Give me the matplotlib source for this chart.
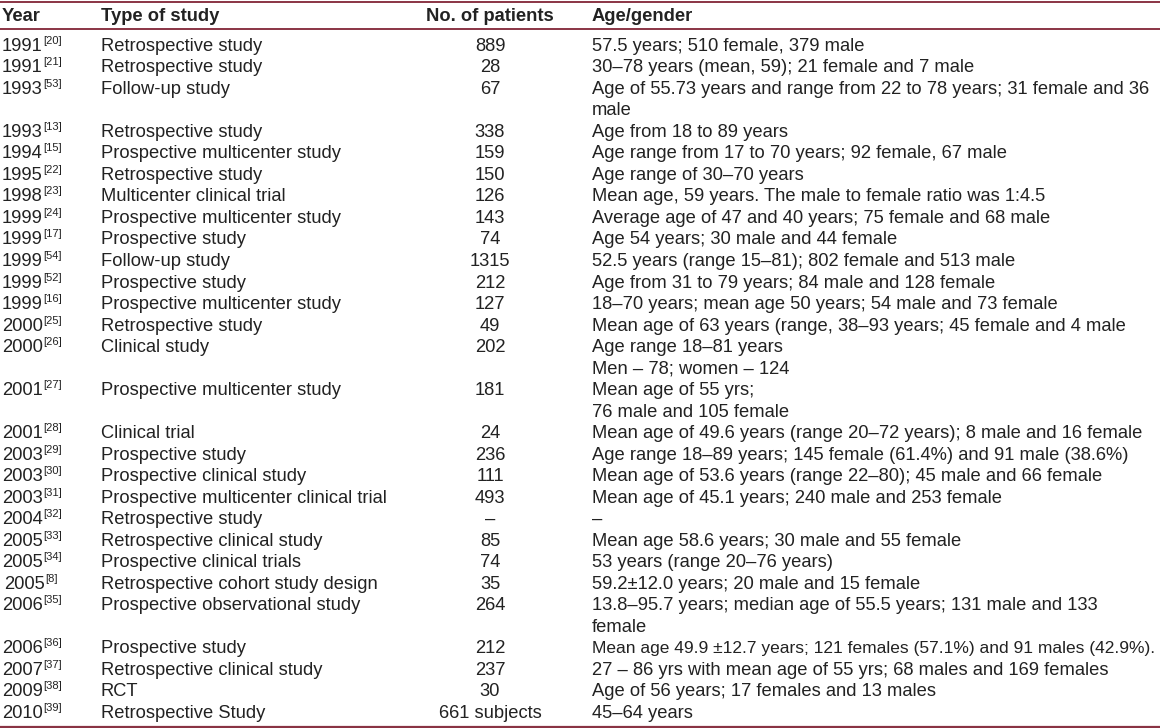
import matplotlib
matplotlib.use("Agg")
import matplotlib.pyplot as plt

# ---- table content ----
headers = ["Year", "Type of study", "No. of patients", "Age/gender"]
years = ["1991", "1991", "1993", "1993", "1994", "1995", "1998", "1999", "1999", "1999",
         "1999", "1999", "2000", "2000", "2001", "2001", "2003", "2003", "2003", "2004",
         "2005", "2005", "2005", "2006", "2006", "2007", "2009", "2010"]
refs = ["20", "21", "53", "13", "15", "22", "23", "24", "17", "54",
        "52", "16", "25", "26", "27", "28", "29", "30", "31", "32",
        "33", "34", "8", "35", "36", "37", "38", "39"]
study_types = ["Retrospective study", "Retrospective study", "Follow-up study",
               "Retrospective study", "Prospective multicenter study", "Retrospective study",
               "Multicenter clinical trial", "Prospective multicenter study", "Prospective study",
               "Follow-up study", "Prospective study", "Prospective multicenter study",
               "Retrospective study", "Clinical study", "Prospective multicenter study",
               "Clinical trial", "Prospective study", "Prospective clinical study",
               "Prospective multicenter clinical trial", "Retrospective study",
               "Retrospective clinical study", "Prospective clinical trials",
               "Retrospective cohort study design", "Prospective observational study",
               "Prospective study", "Retrospective clinical study", "RCT",
               "Retrospective Study"]
patients = ["889", "28", "67", "338", "159", "150", "126", "143", "74", "1315",
            "212", "127", "49", "202", "181", "24", "236", "111", "493", "\u2013",
            "85", "74", "35", "264", "212", "237", "30", "661 subjects"]
age_gender = [
    "57.5 years; 510 female, 379 male",
    "30\u201378 years (mean, 59); 21 female and 7 male",
    "Age of 55.73 years and range from 22 to 78 years; 31 female and 36\nmale",
    "Age from 18 to 89 years",
    "Age range from 17 to 70 years; 92 female, 67 male",
    "Age range of 30\u201370 years",
    "Mean age, 59 years. The male to female ratio was 1:4.5",
    "Average age of 47 and 40 years; 75 female and 68 male",
    "Age 54 years; 30 male and 44 female",
    "52.5 years (range 15\u201381); 802 female and 513 male",
    "Age from 31 to 79 years; 84 male and 128 female",
    "18\u201370 years; mean age 50 years; 54 male and 73 female",
    "Mean age of 63 years (range, 38\u201393 years; 45 female and 4 male",
    "Age range 18\u201381 years\nMen \u2013 78; women \u2013 124",
    "Mean age of 55 yrs;\n76 male and 105 female",
    "Mean age of 49.6 years (range 20\u201372 years); 8 male and 16 female",
    "Age range 18\u201389 years; 145 female (61.4%) and 91 male (38.6%)",
    "Mean age of 53.6 years (range 22\u201380); 45 male and 66 female",
    "Mean age of 45.1 years; 240 male and 253 female",
    "\u2013",
    "Mean age 58.6 years; 30 male and 55 female",
    "53 years (range 20\u201376 years)",
    "59.2\u00b112.0 years; 20 male and 15 female",
    "13.8\u201395.7 years; median age of 55.5 years; 131 male and 133\nfemale",
    "Mean age 49.9 \u00b112.7 years; 121 females (57.1%) and 91 males (42.9%).",
    "27 \u2013 86 yrs with mean age of 55 yrs; 68 males and 169 females",
    "Age of 56 years; 17 females and 13 males",
    "45\u201364 years",
]

# ---- layout / style ----
W, H = 1160, 728
FONT = "Liberation Sans"
FS = 13.2
SUP_FS = 8.0
TXT = "#222222"
RULE = "#8a3444"
X_YEAR, X_TYPE, X_NUM, X_AGE = 2, 101, 490, 592
X_MAX = 1152
Y_HEAD, Y_FIRST, DY = 20.6, 50.8, 21.52

fig = plt.figure(figsize=(W / 100, H / 100), dpi=100)
ax = fig.add_axes([0, 0, 1, 1])
ax.set_xlim(0, W)
ax.set_ylim(H, 0)
ax.axis("off")

# rules
for y, lw in [(1.5, 1.4), (29.0, 1.4), (726.5, 1.6)]:
    ax.plot([0, W], [y, y], color=RULE, lw=lw, solid_capstyle="butt")

# headers
hkw = dict(fontsize=FS, family=FONT, fontweight="bold", color=TXT, va="baseline")
ax.text(X_YEAR, Y_HEAD, headers[0], ha="left", **hkw)
ax.text(X_TYPE, Y_HEAD, headers[1], ha="left", **hkw)
ax.text(X_NUM, Y_HEAD, headers[2], ha="center", **hkw)
ax.text(X_AGE, Y_HEAD, headers[3], ha="left", **hkw)

fig.canvas.draw()
renderer = fig.canvas.get_renderer()
inv = ax.transData.inverted()


def right_edge(t):
    bb = t.get_window_extent(renderer)
    return inv.transform((bb.x1, bb.y0))[0]


kw = dict(fontsize=FS, family=FONT, color=TXT, va="baseline")
line = 0
for yr, rf, st, n, ag in zip(years, refs, study_types, patients, age_gender):
    y = Y_FIRST + line * DY
    xoff = 2 if rf == "8" else 0
    t = ax.text(X_YEAR + xoff, y, yr, ha="left", **kw)
    ax.text(right_edge(t) + 0.8, y - 7.0, "[" + rf + "]", ha="left",
            fontsize=SUP_FS, family=FONT, color=TXT, va="baseline")
    ax.text(X_TYPE, y, st, ha="left", **kw)
    ax.text(X_NUM, y, n, ha="center", **kw)
    parts = ag.split("\n")
    for k, part in enumerate(parts):
        t = ax.text(X_AGE, y + k * DY, part, ha="left", **kw)
        # condense a line that would overrun the column
        r = right_edge(t)
        if r > X_MAX:
            t.set_fontsize(FS * (X_MAX - X_AGE) / (r - X_AGE))
    line += len(parts)

fig.savefig("out.png", dpi=100, facecolor="white")
